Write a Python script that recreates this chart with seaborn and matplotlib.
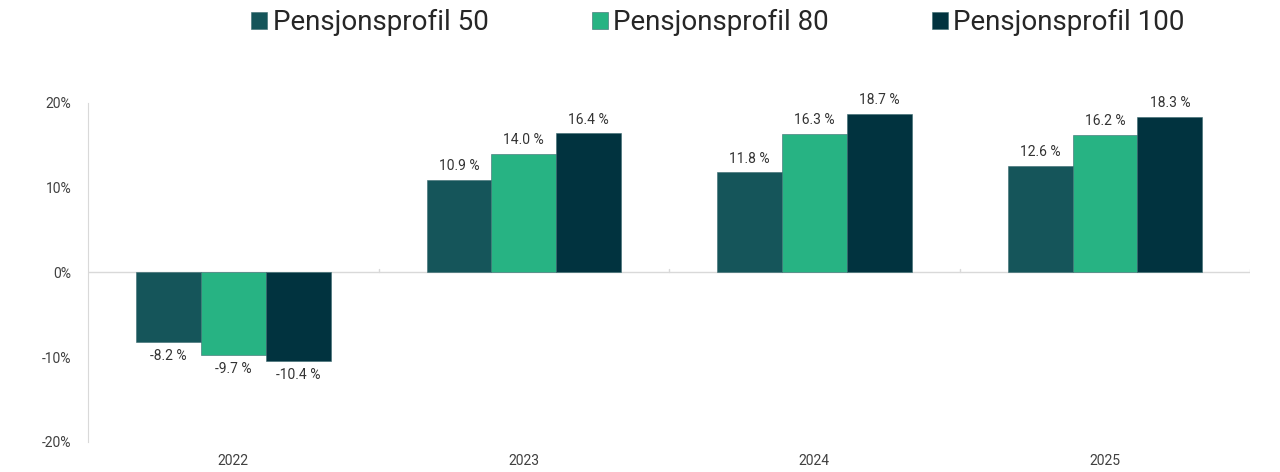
import pandas as pd
import matplotlib.pyplot as plt
import seaborn as sns

years = ["2022", "2023", "2024", "2025"]
profiles = ["Pensjonsprofil 50", "Pensjonsprofil 80", "Pensjonsprofil 100"]
p50 = [-8.2, 10.9, 11.8, 12.6]
p80 = [-9.7, 14.0, 16.3, 16.2]
p100 = [-10.4, 16.4, 18.7, 18.3]
yticks = [-20, -10, 0, 10, 20]

colors = ["#15555A", "#27B383", "#01333F"]

df = pd.DataFrame({
    "year": years * 3,
    "profile": [profiles[0]] * 4 + [profiles[1]] * 4 + [profiles[2]] * 4,
    "value": p50 + p80 + p100,
})

sns.set_style("white")
plt.rcParams['font.family'] = ['Roboto', 'DejaVu Sans']

fig = plt.figure(figsize=(12.8, 4.72), dpi=100)
ax = fig.add_axes([0.06875, 0.0636, 0.908, 0.7182])

sns.barplot(data=df, x="year", y="value", hue="profile", palette=colors,
            width=0.67, saturation=1, ax=ax, legend=True,
            edgecolor="#3b6b70", linewidth=0.4)

for cont in ax.containers:
    ax.bar_label(cont, labels=[f"{v:.1f} %" for v in cont.datavalues],
                 padding=5, fontsize=10, color="#333333")

ax.set_ylim(-20, 20)
ax.set_xlim(-0.5, len(years) - 0.5)
ax.set_yticks(yticks)
ax.set_yticklabels([f"{t}%" for t in yticks], fontsize=10, color="#404040")
ax.tick_params(axis="x", labelsize=10, labelcolor="#404040", pad=9, length=0)
ax.tick_params(axis="y", length=0, pad=12)
ax.set_xlabel("")
ax.set_ylabel("")

for s in ["top", "right", "bottom"]:
    ax.spines[s].set_visible(False)
ax.spines["left"].set_color("#d9d9d9")
ax.spines["left"].set_linewidth(0.8)

ax.axhline(0, color="#d9d9d9", lw=1, zorder=0)
for i in range(len(years)):
    ax.plot([i + 0.5, i + 0.5], [0, 0.45], color="#d9d9d9", lw=1, zorder=0)

handles, labels = ax.get_legend_handles_labels()
ax.legend_.remove()
fig.legend(handles, labels, loc="upper center", bbox_to_anchor=(0.561, 1.033),
           ncol=3, frameon=False, fontsize=20, handlelength=0.58, handleheight=0.58,
           handletextpad=0.2, columnspacing=3.7, labelcolor="#262626")

fig.savefig("out.png", dpi=100)
